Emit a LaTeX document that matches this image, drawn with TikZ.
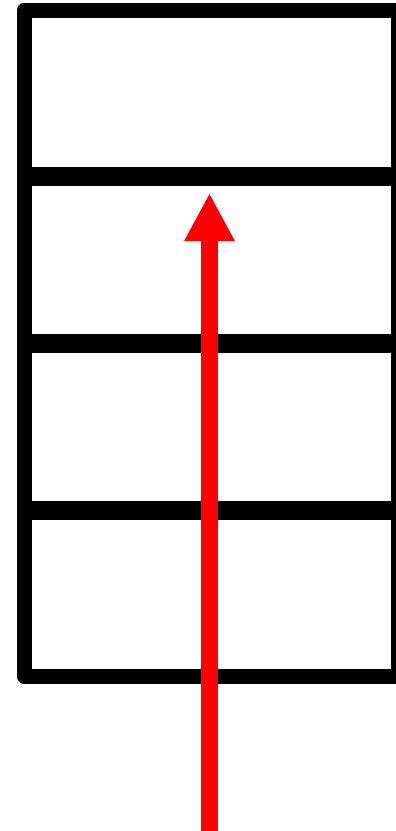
\documentclass[tikz,border=0pt]{standalone}
\usetikzlibrary{arrows.meta}
\tikzset{
  frame/.style={draw=black, line width=15pt, line join=round, line cap=round},
  divider/.style={draw=black, line width=19pt},
  flow/.style={draw=red, line width=17pt, -{Triangle[length=48pt,width=47pt]}, color=red}
}
\begin{document}
\begin{tikzpicture}[x=1pt,y=-1pt]
\useasboundingbox (0,0) rectangle (396,831);
\clip (0,0) rectangle (396,831);
\coordinate (tl) at (24,10);
\coordinate (tr) at (398.5,10);
\coordinate (bl) at (24,676);
\coordinate (br) at (398.5,676);
\coordinate (d1l) at (24,176);
\coordinate (d1r) at (398.5,176);
\coordinate (d2l) at (24,343);
\coordinate (d2r) at (398.5,343);
\coordinate (d3l) at (24,510);
\coordinate (d3r) at (398.5,510);
\coordinate (start) at (209.5,845);
\coordinate (tip) at (209.5,193);
\draw[divider] (d1l) -- (d1r);
\draw[divider] (d2l) -- (d2r);
\draw[divider] (d3l) -- (d3r);
\draw[frame] (tr) -- (tl) -- (bl) -- (br) -- cycle;
\draw[flow] (start) -- (tip);
\end{tikzpicture}
\end{document}
